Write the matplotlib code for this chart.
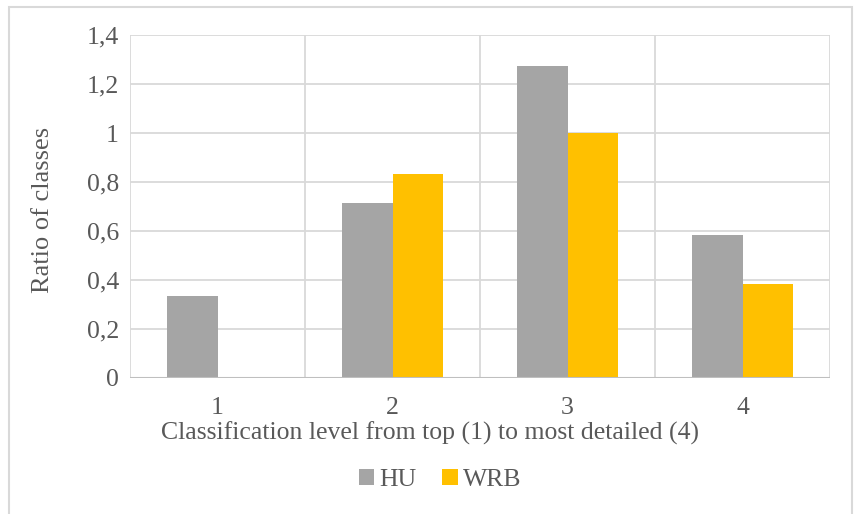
import numpy as np
import matplotlib.pyplot as plt
from matplotlib.patches import Rectangle

# Datos
niveles = ["1", "2", "3", "4"]
hu = [0.333, 0.714, 1.273, 0.583]
wrb = [0.0, 0.833, 1.0, 0.385]

plt.rcParams['font.family'] = ['Liberation Serif', 'DejaVu Serif']
texto = '#595959'
rejilla = '#D9D9D9'

fig = plt.figure(figsize=(8.55, 5.14), dpi=100)
ax = fig.add_axes([130/855, 1 - 378/514, 700/855, 343/514])

x = np.arange(1, len(niveles) + 1)
w = 0.29
ax.bar(x - w/2, hu, width=w, color='#A5A5A5', label='HU', zorder=3)
ax.bar(x + w/2, wrb, width=w, color='#FFC000', label='WRB', zorder=3)

ax.set_xlim(0.5, 4.5)
ax.set_ylim(0, 1.4)
ax.set_yticks(np.arange(0, 1.41, 0.2))
ax.set_yticklabels(['0', '0,2', '0,4', '0,6', '0,8', '1', '1,2', '1,4'])
ax.set_xticks(x)
ax.set_xticklabels(niveles)

# Rejilla horizontal y vertical (límites de categoría)
for yv in np.arange(0.2, 1.41, 0.2):
    ax.axhline(yv, color=rejilla, lw=1.3, zorder=1)
for xv in np.arange(0.5, 4.6, 1.0):
    ax.axvline(xv, color=rejilla, lw=1.3, zorder=1)
ax.axhline(0, color='#BFBFBF', lw=1.5, zorder=4)

for s in ax.spines.values():
    s.set_visible(False)
ax.tick_params(length=0, labelsize=18.5, colors=texto, pad=8)
ax.tick_params(axis='x', pad=14)

ax.set_ylabel("Ratio of classes", fontsize=19, color=texto)
ax.yaxis.set_label_coords((54 - 130)/700, 0.49)
ax.set_xlabel("Classification level from top (1) to most detailed (4)",
              fontsize=18.5, color=texto)
ax.xaxis.set_label_coords((430 - 130)/700, -44/343)

fig.legend(loc='center', bbox_to_anchor=(440/855, 1 - 480/514), ncol=2,
           frameon=False, fontsize=18.5, labelcolor=texto,
           handlelength=0.6, handleheight=0.6, handletextpad=0.2,
           columnspacing=1.0)

# Borde del área del gráfico
fig.patches.append(Rectangle((9/855, -0.01), 843/855, 1 - 7/514 + 0.01,
                             transform=fig.transFigure, fill=False,
                             edgecolor=rejilla, lw=1.5))

plt.savefig("out.png", dpi=100)
